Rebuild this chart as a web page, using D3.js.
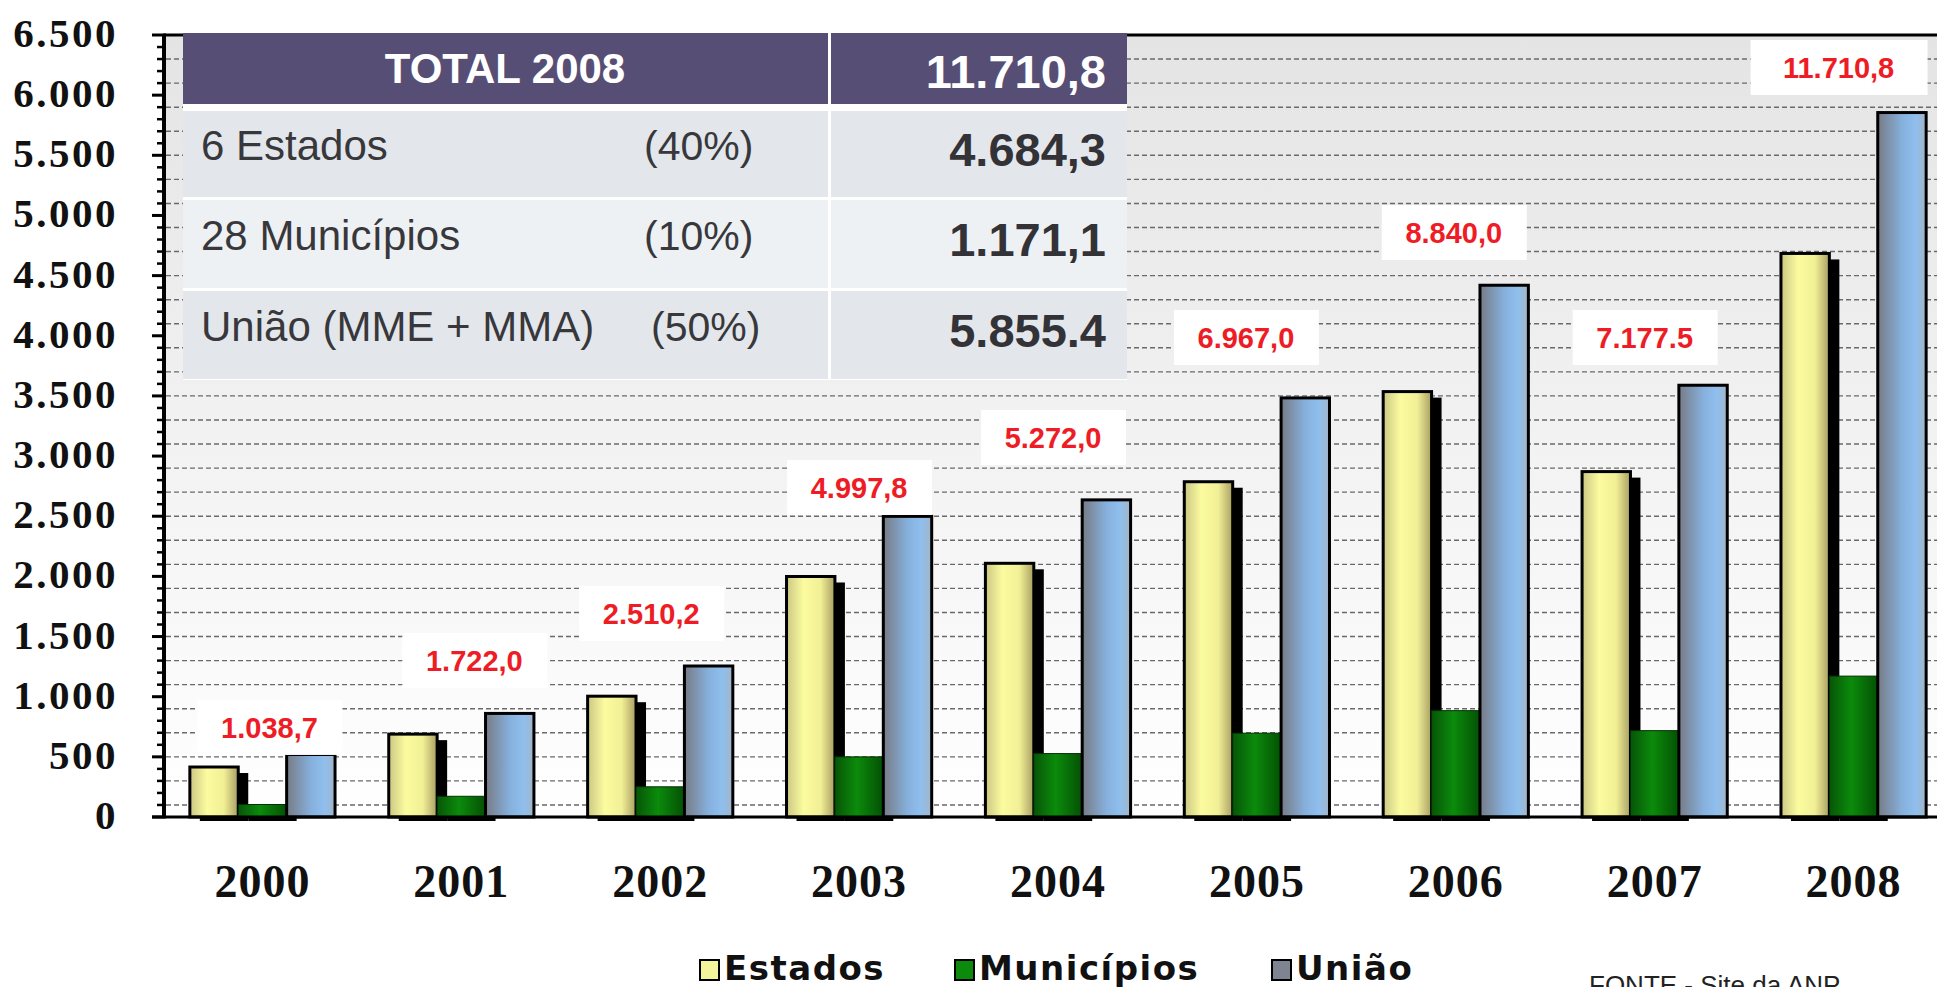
<!DOCTYPE html>
<html>
<head>
<meta charset="utf-8">
<script src="https://cdn.jsdelivr.net/npm/d3@7/dist/d3.min.js"></script>
<style>
  body { margin: 0; background: #fff; }
  svg { display: block; }
</style>
</head>
<body>
<div id="chart"></div>
<script>
// values (R$ milhões)
var years = ["2000", "2001", "2002", "2003", "2004", "2005", "2006", "2007", "2008"];
var seriesNames = ["Estados", "Municípios", "União"];
var estados    = [415.5, 688.8, 1004.1, 1999.1, 2108.8, 2786.8, 3536.0, 2871.0, 4684.3];
var municipios = [103.9, 172.2, 251.0, 499.8, 527.2, 696.7, 884.0, 717.8, 1171.1];
var uniao      = [519.4, 861.0, 1255.1, 2498.9, 2636.0, 3483.5, 4420.0, 3588.8, 5855.4];
var totalLabels = ["1.038,7", "1.722,0", "2.510,2", "4.997,8", "5.272,0", "6.967,0", "8.840,0", "7.177.5", "11.710,8"];

var tableHeader = ["TOTAL 2008", "11.710,8"];
var tableNames  = ["6 Estados", "28 Municípios", "União (MME + MMA)"];
var tableShares = ["(40%)", "(10%)", "(50%)"];
var tableValues = ["4.684,3", "1.171,1", "5.855.4"];

var fonte = "FONTE - Site da ANP";

var width = 1937, height = 987;
var svg = d3.select("#chart").append("svg")
  .attr("width", width)
  .attr("height", height);

var x0 = d3.scaleBand().domain(years)
  .range([163, 1953])
  .paddingInner(0.27)
  .paddingOuter(0.135);
var x1 = d3.scaleBand().domain(seriesNames)
  .range([0, x0.bandwidth()]);
var y = d3.scaleLinear().domain([0, 6500]).range([817, 35]);

var br = d3.formatLocale({ decimal: ",", thousands: ".", grouping: [3], currency: ["", ""] });
var fmt = br.format(",d");

// gradients
var defs = svg.append("defs");
function grad(id, stops, vertical) {
  var g = defs.append("linearGradient").attr("id", id)
    .attr("x1", 0).attr("y1", 0)
    .attr("x2", vertical ? 0 : 1).attr("y2", vertical ? 1 : 0);
  stops.forEach(function (s) {
    g.append("stop").attr("offset", s[0]).attr("stop-color", s[1]);
  });
}
grad("bg", [[0, "#e4e4e4"], [0.55, "#f3f3f3"], [1, "#ffffff"]], true);
grad("g0", [[0, "#cbc784"], [0.35, "#fbfb9f"], [0.7, "#f2f096"], [1, "#a89f63"]]);
grad("g1", [[0, "#075507"], [0.45, "#0b8b0b"], [1, "#045004"]]);
grad("g2", [[0, "#777b85"], [0.5, "#86b0dc"], [0.78, "#8fbfee"], [1, "#a3b5c8"]]);
var fills = ["url(#g0)", "url(#g1)", "url(#g2)"];

// plot area
svg.append("rect")
  .attr("x", 164).attr("y", y(6500))
  .attr("width", width - 164).attr("height", y(0) - y(6500))
  .attr("fill", "url(#bg)");

svg.append("g").selectAll("line")
  .data(d3.range(100, 6500, 200))
  .enter().append("line")
  .attr("x1", 166).attr("x2", width)
  .attr("y1", function (d) { return y(d); })
  .attr("y2", function (d) { return y(d); })
  .attr("stroke", "#6a6a6a")
  .attr("stroke-width", 1.4)
  .attr("stroke-dasharray", "5,3");

// bars
var groups = years.map(function (yr, i) {
  return { year: yr, values: [estados[i], municipios[i], uniao[i]] };
});

var g = svg.append("g").selectAll("g")
  .data(groups)
  .enter().append("g")
  .attr("transform", function (d) { return "translate(" + x0(d.year) + ",0)"; });

function cells(d) {
  return d.values.map(function (v, k) { return { s: seriesNames[k], k: k, v: v }; });
}

// drop shadows (only the two front bars show one)
g.selectAll("rect.shadow")
  .data(function (d) { return cells(d).filter(function (c) { return c.k < 2; }); })
  .enter().append("rect")
  .attr("class", "shadow")
  .attr("x", function (c) { return x1(c.s) + 10; })
  .attr("y", function (c) { return y(c.v) + 6; })
  .attr("width", x1.bandwidth())
  .attr("height", function (c) { return y(0) - y(c.v) - 2; })
  .attr("fill", "#000");

g.selectAll("rect.bar")
  .data(cells)
  .enter().append("rect")
  .attr("class", "bar")
  .attr("x", function (c) { return x1(c.s); })
  .attr("y", function (c) { return y(c.v); })
  .attr("width", x1.bandwidth())
  .attr("height", function (c) { return y(0) - y(c.v); })
  .attr("fill", function (c) { return fills[c.k]; })
  .attr("stroke", function (c) { return c.k === 1 ? "#033003" : "#000"; })
  .attr("stroke-width", function (c) { return c.k === 1 ? 1 : 3; });

// axis lines
svg.append("line").attr("x1", 152).attr("x2", width)
  .attr("y1", y(0)).attr("y2", y(0))
  .attr("stroke", "#000").attr("stroke-width", 3);
svg.append("line").attr("x1", 163).attr("x2", width)
  .attr("y1", y(6500)).attr("y2", y(6500))
  .attr("stroke", "#000").attr("stroke-width", 3);
svg.append("line").attr("x1", 164).attr("x2", 164)
  .attr("y1", y(6500) - 1).attr("y2", y(0) + 1)
  .attr("stroke", "#000").attr("stroke-width", 4);

// y ticks
svg.append("g").selectAll("line")
  .data(y.ticks(65))
  .enter().append("line")
  .attr("x1", function (d) { return d % 500 === 0 ? 152 : 157; })
  .attr("x2", 166)
  .attr("y1", function (d) { return y(d); })
  .attr("y2", function (d) { return y(d); })
  .attr("stroke", "#000")
  .attr("stroke-width", function (d) { return d % 500 === 0 ? 3 : 2.5; });

svg.append("g").selectAll("text")
  .data(y.ticks(13))
  .enter().append("text")
  .attr("x", 118)
  .attr("y", function (d) { return y(d) + 12; })
  .attr("text-anchor", "end")
  .style("font-family", "'Liberation Serif', serif")
  .style("font-weight", "bold")
  .style("font-size", "41px")
  .style("letter-spacing", "2.5px")
  .attr("fill", "#111")
  .text(fmt);

// x labels
svg.append("g").selectAll("text")
  .data(years)
  .enter().append("text")
  .attr("x", function (d) { return x0(d) + x0.bandwidth() / 2; })
  .attr("y", 897)
  .attr("text-anchor", "middle")
  .style("font-family", "'Liberation Serif', serif")
  .style("font-weight", "bold")
  .style("font-size", "46px")
  .style("letter-spacing", "1px")
  .attr("fill", "#111")
  .text(function (d) { return d; });

// total labels: box top (in axis units) and sideways nudge, placed by hand as in the picture
var labelAt = [973, 1530, 1920, 2968, 3383, 4214, 5087, 4214, 6459];
var labelShift = [7, 13, -9, 0, -5, -11, -2, -10, -15];

var lab = svg.append("g").selectAll("g")
  .data(totalLabels)
  .enter().append("g")
  .attr("transform", function (d, i) {
    return "translate(" + (x0(years[i]) + x0.bandwidth() / 2 + labelShift[i]) + "," + y(labelAt[i]) + ")";
  });
lab.append("rect")
  .attr("x", function (d, i) { return i === totalLabels.length - 1 ? -88 : -72; })
  .attr("width", function (d, i) { return i === totalLabels.length - 1 ? 177 : 145; })
  .attr("height", 55)
  .attr("fill", "#fff");
lab.append("text")
  .attr("y", 38)
  .attr("text-anchor", "middle")
  .style("font-family", "'Liberation Sans', Arial, sans-serif")
  .style("font-weight", "bold")
  .style("font-size", "29px")
  .attr("fill", "#ee1c25")
  .text(function (d) { return d; });

// summary table
var tbl = svg.append("g");
tbl.append("rect").attr("x", 183).attr("y", 33).attr("width", 944).attr("height", 347).attr("fill", "#fff");
tbl.append("rect").attr("x", 183).attr("y", 33).attr("width", 645).attr("height", 71).attr("fill", "#574e76");
tbl.append("rect").attr("x", 831).attr("y", 33).attr("width", 296).attr("height", 71).attr("fill", "#574e76");
tbl.append("text")
  .attr("x", 505).attr("y", 83)
  .attr("text-anchor", "middle")
  .style("font-family", "'Liberation Sans', Arial, sans-serif")
  .style("font-weight", "bold").style("font-size", "42px")
  .attr("fill", "#fff")
  .text(tableHeader[0]);
tbl.append("text")
  .attr("x", 1106).attr("y", 88)
  .attr("text-anchor", "end")
  .style("font-family", "'Liberation Sans', Arial, sans-serif")
  .style("font-weight", "bold").style("font-size", "47px")
  .attr("fill", "#fff")
  .text(tableHeader[1]);

var rowTop = [111, 200, 291], rowH = [86, 88, 88];
var rowFill = ["#e3e7eb", "#eef1f4", "#e3e7eb"];
var shareX = [644, 644, 651];
var rows = tbl.selectAll("g.row")
  .data(tableNames)
  .enter().append("g")
  .attr("class", "row")
  .attr("transform", function (d, i) { return "translate(0," + rowTop[i] + ")"; });
rows.append("rect").attr("x", 183).attr("width", 645)
  .attr("height", function (d, i) { return rowH[i]; })
  .attr("fill", function (d, i) { return rowFill[i]; });
rows.append("rect").attr("x", 831).attr("width", 296)
  .attr("height", function (d, i) { return rowH[i]; })
  .attr("fill", function (d, i) { return rowFill[i]; });
rows.append("text")
  .attr("x", 201).attr("y", function (d, i) { return rowH[i] / 2 + 6; })
  .style("font-family", "'Liberation Sans', Arial, sans-serif")
  .style("font-size", "42px")
  .attr("fill", "#38383c")
  .text(function (d) { return d; });
rows.append("text")
  .attr("x", function (d, i) { return shareX[i]; })
  .attr("y", function (d, i) { return rowH[i] / 2 + 6; })
  .style("font-family", "'Liberation Sans', Arial, sans-serif")
  .style("font-size", "41px")
  .attr("fill", "#38383c")
  .text(function (d, i) { return tableShares[i]; });
rows.append("text")
  .attr("x", 1106).attr("y", function (d, i) { return rowH[i] / 2 + 12; })
  .attr("text-anchor", "end")
  .style("font-family", "'Liberation Sans', Arial, sans-serif")
  .style("font-weight", "bold").style("font-size", "47px")
  .attr("fill", "#333337")
  .text(function (d, i) { return tableValues[i]; });

// legend
var legX = [700, 955, 1272];
var leg = svg.append("g").selectAll("g")
  .data(seriesNames)
  .enter().append("g")
  .attr("transform", function (d, i) { return "translate(" + legX[i] + ",960)"; });
leg.append("rect")
  .attr("width", 19).attr("height", 20)
  .attr("fill", function (d, i) { return ["#f4f49c", "#0b8a0b", "#7e8490"][i]; })
  .attr("stroke", "#000").attr("stroke-width", 2);
leg.append("text")
  .attr("x", 24).attr("y", 20)
  .style("font-family", "'DejaVu Sans', Verdana, sans-serif")
  .style("font-weight", "bold").style("font-size", "34px")
  .style("letter-spacing", "1.5px")
  .attr("fill", "#111")
  .text(function (d) { return d; });

svg.append("text")
  .attr("x", 1589).attr("y", 994)
  .style("font-family", "'Liberation Sans', Arial, sans-serif")
  .style("font-size", "26px")
  .attr("fill", "#222")
  .text(fonte);
</script>
</body>
</html>
